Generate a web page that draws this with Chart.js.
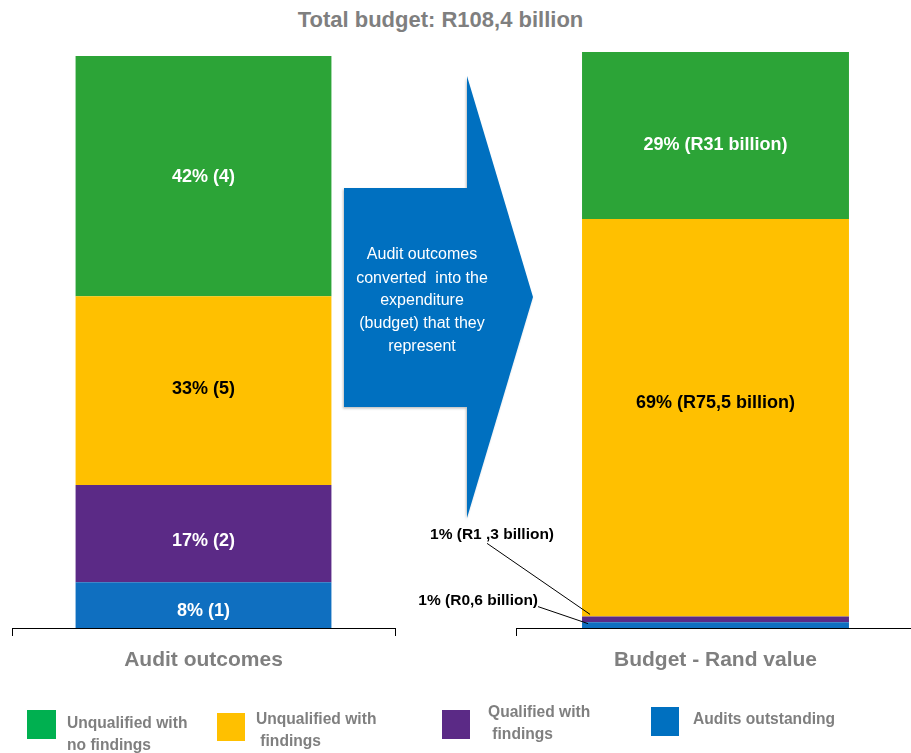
<!DOCTYPE html>
<html>
<head>
<meta charset="utf-8">
<title>Audit outcomes and budget</title>
<script src="https://cdn.jsdelivr.net/npm/chart.js@4.4.1/dist/chart.umd.min.js"></script>
<style>
  html, body { margin: 0; padding: 0; width: 911px; height: 753px; overflow: hidden; background: #fff; }
  body { position: relative; font-family: "Liberation Sans", Arial, sans-serif; }
  #title { position: absolute; left: 0; top: 7px; width: 881px; text-align: center;
           font-size: 22px; line-height: 26px; font-weight: bold; color: #7f7f7f; }
  .box { position: absolute; top: 0; }
  #arrow { position: absolute; left: 0; top: 0; pointer-events: none; }
  .sw { position: absolute; }
  .lt { position: absolute; font-size: 15.6px; font-weight: bold; color: #7f7f7f; white-space: pre; }
</style>
</head>
<body>
<div id="title">Total budget: R108,4 billion</div>

<div class="box" style="left:0px"><canvas id="outcomes" width="420" height="700"></canvas></div>
<div class="box" style="left:400px"><canvas id="budget" width="530" height="700"></canvas></div>

<svg id="arrow" width="911" height="753" xmlns="http://www.w3.org/2000/svg">
  <defs>
    <filter id="sh" x="-10%" y="-10%" width="120%" height="120%">
      <feDropShadow dx="-1" dy="1.5" stdDeviation="1.2" flood-color="#000" flood-opacity="0.25"/>
    </filter>
  </defs>
  <polygon points="344,188 467,188 467,76 533,297 467,518 467,407 344,407" fill="#0070C0" filter="url(#sh)"/>
  <g fill="#fff" font-family="Liberation Sans, Arial, sans-serif" font-size="16" text-anchor="middle" dominant-baseline="central">
    <text x="422" y="253">Audit outcomes</text>
    <text x="422" y="277" xml:space="preserve">converted  into the</text>
    <text x="422" y="299">expenditure</text>
    <text x="422" y="322">(budget) that they</text>
    <text x="422" y="345">represent</text>
  </g>
</svg>

<div id="legend"></div>

<script>
// Series, listed from the top of each stack to the bottom
const seriesNames = ['Unqualified with\nno findings', 'Unqualified with\n findings', 'Qualified with\n findings', 'Audits outstanding'];
const barColors = ['#2CA437', '#FFC000', '#5B2A86', '#0F6FC0'];
const legendColors = ['#00B050', '#FFC000', '#5B2A86', '#0070C0'];

// Left bar: share of auditees per outcome, with the number of auditees
const outcomeCategory = ['Audit outcomes'];
const outcomePct = [42, 33, 17, 8];
const outcomeCount = [4, 5, 2, 1];

// Right bar: share of the budget per outcome, with the rand value
const budgetCategory = ['Budget - Rand value'];
const budgetPct = [29, 69, 1, 1];
const budgetRand = ['R31 billion', 'R75,5 billion', 'R1 ,3 billion', 'R0,6 billion'];

const FONT = 'Liberation Sans, Arial, sans-serif';

// Draws the value labels: centred inside a segment, or beside the bar with a leader line
const segmentLabels = {
  id: 'segmentLabels',
  afterDatasetsDraw(chart) {
    const ctx = chart.ctx;
    chart.data.datasets.forEach((ds, di) => {
      const bar = chart.getDatasetMeta(di).data[0];
      if (!bar) return;
      const p = bar.getProps(['x', 'y', 'base', 'width'], true);
      const top = Math.min(p.y, p.base), bottom = Math.max(p.y, p.base);
      const mid = (top + bottom) / 2;
      const left = p.x - p.width / 2;
      const s = ds.labelStyle;
      ctx.save();
      ctx.font = 'bold ' + s.size + 'px ' + FONT;
      ctx.fillStyle = s.color;
      ctx.textBaseline = 'middle';
      if (s.callout) {
        const c = s.callout;
        ctx.textAlign = 'right';
        ctx.fillText(ds.labelText, left + c.textDx, mid + c.textDy);
        ctx.strokeStyle = '#000';
        ctx.lineWidth = 1;
        ctx.beginPath();
        ctx.moveTo(left + c.fromDx, mid + c.fromDy);
        ctx.lineTo(left + c.toDx, mid + c.toDy);
        ctx.stroke();
      } else {
        ctx.textAlign = 'center';
        ctx.fillText(ds.labelText, p.x, mid + (s.dy || 0));
      }
      ctx.restore();
    });
  }
};

function buildChart(id, category, values, texts, styles, pad, barPct) {
  const datasets = [];
  // bottom of the stack first
  for (let i = values.length - 1; i >= 0; i--) {
    datasets.push({
      label: seriesNames[i].replace('\n', ' '),
      data: [values[i]],
      backgroundColor: barColors[i],
      borderWidth: 0,
      barPercentage: barPct,
      categoryPercentage: 1,
      labelText: texts[i],
      labelStyle: styles[i]
    });
  }
  return new Chart(document.getElementById(id), {
    type: 'bar',
    data: { labels: category, datasets },
    plugins: [segmentLabels],
    options: {
      responsive: false,
      animation: false,
      layout: { padding: pad },
      plugins: { legend: { display: false }, tooltip: { enabled: false }, title: { display: false } },
      scales: {
        x: {
          stacked: true,
          offset: true,
          border: { display: true, color: '#000', width: 1 },
          grid: { display: true, drawOnChartArea: false, drawTicks: true, tickLength: 8, color: '#000', offset: true },
          ticks: { color: '#7f7f7f', padding: 12, font: { family: FONT, size: 21, weight: 'bold' } },
          afterFit(scale) { scale.height = 72; }
        },
        y: { stacked: true, display: false, min: 0, max: 100 }
      }
    }
  });
}

const outcomeTexts = outcomePct.map((v, i) => v + '% (' + outcomeCount[i] + ')');
buildChart('outcomes', outcomeCategory, outcomePct, outcomeTexts, [
  { size: 18, color: '#fff', dy: 1 },
  { size: 18, color: '#000', dy: -2 },
  { size: 18, color: '#fff', dy: 7 },
  { size: 18, color: '#fff', dy: 6 }
], { left: 12, right: 25, top: 56, bottom: 0 }, 0.668);

const budgetTexts = budgetPct.map((v, i) => v + '% (' + budgetRand[i] + ')');
buildChart('budget', budgetCategory, budgetPct, budgetTexts, [
  { size: 18, color: '#fff', dy: 10 },
  { size: 18, color: '#000', dy: -15 },
  { size: 15.5, color: '#000', callout: { textDx: -28, textDy: -85, fromDx: -95, fromDy: -76, toDx: 8, toDy: -5 } },
  { size: 15.5, color: '#000', callout: { textDx: -44, textDy: -24.5, fromDx: -44, fromDy: -18.5, toDx: 6, toDy: -1.5 } }
], { left: 116, right: 15, top: 52, bottom: 0 }, 0.669);

// Legend beneath both bars
const legendItems = [
  { sq: [27, 710, 29, 29], tx: [67, 712] },
  { sq: [217, 713, 28, 28], tx: [256, 708] },
  { sq: [442, 710, 28, 29], tx: [488, 701] },
  { sq: [651, 707, 28, 29], tx: [693, 708] }
];
const legend = document.getElementById('legend');
legendItems.forEach((it, i) => {
  const sq = document.createElement('div');
  sq.className = 'sw';
  sq.style.cssText = `left:${it.sq[0]}px;top:${it.sq[1]}px;width:${it.sq[2]}px;height:${it.sq[3]}px;background:${legendColors[i]};`;
  legend.appendChild(sq);
  const t = document.createElement('div');
  t.className = 'lt';
  t.style.cssText = `left:${it.tx[0]}px;top:${it.tx[1]}px;line-height:22px;`;
  t.textContent = seriesNames[i];
  legend.appendChild(t);
});
</script>
</body>
</html>
